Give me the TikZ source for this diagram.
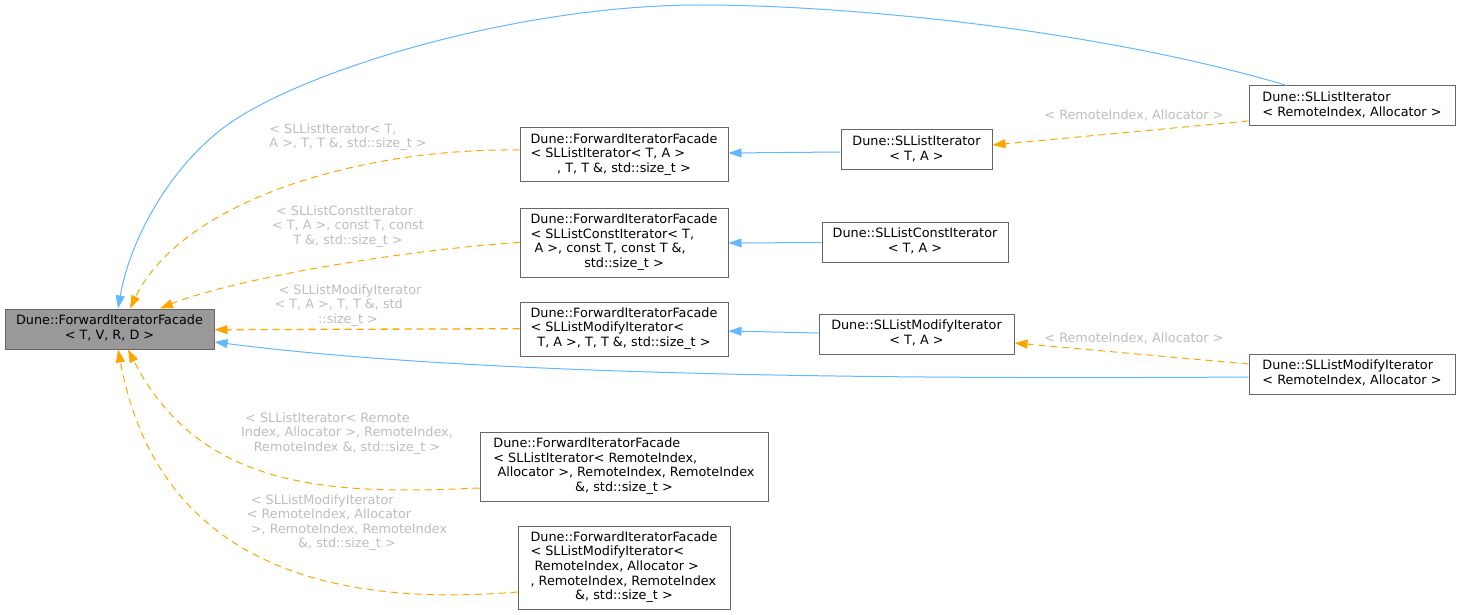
\documentclass[tikz,border=0pt]{standalone}
\usepackage{fontspec}
\setmainfont{DejaVu Sans}
\usetikzlibrary{arrows.meta}
\definecolor{edgeblue}{HTML}{63B8FF}
\definecolor{edgeorange}{HTML}{FFA500}
\definecolor{nodeborder}{HTML}{666666}
\definecolor{basefill}{HTML}{999999}
\definecolor{lblgray}{HTML}{BEBEBE}
\newcommand{\txt}[2]{\begin{tabular}{@{}l@{}}#1\\\multicolumn{1}{@{}c@{}}{#2}\end{tabular}}
\begin{document}
\begin{tikzpicture}[x=1pt,y=-1pt,
  font=\fontsize{12.8}{14.6}\selectfont,
  box/.style={draw=nodeborder, line width=1pt, fill=white, inner sep=0pt, rectangle},
  basebox/.style={box, fill=basefill},
  lbl/.style={text=lblgray, inner sep=0pt},
  blueedge/.style={draw=edgeblue, line width=1pt, -{Triangle[length=13pt,width=9pt]}},
  orangeedge/.style={draw=edgeorange, line width=1pt, dash pattern=on 7pt off 5pt, -{Triangle[length=13pt,width=9pt]}}
]
\useasboundingbox (0,0) rectangle (1460,615);
\fill[white] (0,0) rectangle (1460,615);

% nodes
\node[basebox, minimum width=209pt, minimum height=40pt] (base) at (109.5,329) {\txt{Dune::ForwardIteratorFacade}{< T, V, R, D >}};
\node[box, minimum width=208pt, minimum height=54pt] (f1) at (624,155) {\txt{Dune::ForwardIteratorFacade\\< SLListIterator< T, A >}{, T, T \&, std::size\_t >}};
\node[box, minimum width=208pt, minimum height=69pt] (f2) at (624,242.5) {\txt{Dune::ForwardIteratorFacade\\< SLListConstIterator< T,\\\ A >, const T, const T \&,}{std::size\_t >}};
\node[box, minimum width=208pt, minimum height=54pt] (f3) at (624,329) {\txt{Dune::ForwardIteratorFacade\\< SLListModifyIterator<}{T, A >, T, T \&, std::size\_t >}};
\node[box, minimum width=288pt, minimum height=69pt] (f4) at (624,466.5) {\txt{Dune::ForwardIteratorFacade\\< SLListIterator< RemoteIndex,\\\ Allocator >, RemoteIndex, RemoteIndex}{\&, std::size\_t >}};
\node[box, minimum width=212pt, minimum height=83pt] (f5) at (624,567.5) {\txt{Dune::ForwardIteratorFacade\\< SLListModifyIterator<\\\ RemoteIndex, Allocator >\\, RemoteIndex, RemoteIndex}{\&, std::size\_t >}};
\node[box, minimum width=151pt, minimum height=40pt] (s1) at (916.5,150) {\txt{Dune::SLListIterator}{< T, A >}};
\node[box, minimum width=186pt, minimum height=40pt] (s2) at (915,242) {\txt{Dune::SLListConstIterator}{< T, A >}};
\node[box, minimum width=195pt, minimum height=40pt] (s3) at (916.5,334) {\txt{Dune::SLListModifyIterator}{< T, A >}};
\node[box, minimum width=206pt, minimum height=40pt] (r1) at (1352,106) {\txt{Dune::SLListIterator}{< RemoteIndex, Allocator >}};
\node[box, minimum width=206pt, minimum height=40pt] (r2) at (1352,374) {\txt{Dune::SLListModifyIterator}{< RemoteIndex, Allocator >}};

% blue edges
\draw[blueedge] ([xshift=-65pt]r1.north) .. controls (1100,30) and (850,5) .. (700,5) .. controls (520,5) and (310,68) .. (230,123) .. controls (170,165) and (130,240) .. ([xshift=8.5pt]base.north);
\draw[blueedge] ([yshift=-3pt]r2.west) .. controls (800,380) and (450,372) .. ([yshift=-13pt]base.east);
\draw[blueedge] ([yshift=-2pt]s1.west) -- ([yshift=2pt]f1.east);
\draw[blueedge] ([yshift=-0.5pt]s2.west) -- ([yshift=-0.5pt]f2.east);
\draw[blueedge] ([yshift=1pt]s3.west) -- ([yshift=-2pt]f3.east);

% orange edges
\draw[orangeedge] ([yshift=-15pt]r1.west) -- ([yshift=5pt]s1.east);
\draw[orangeedge] ([yshift=10pt]r2.west) -- ([yshift=-9pt]s3.east);
\draw[orangeedge] ([yshift=5pt]f1.west) .. controls (350,148) and (180,205) .. ([xshift=20.5pt]base.north);
\draw[orangeedge] (f2.west) .. controls (400,250) and (230,280) .. ([xshift=50.5pt]base.north);
\draw[orangeedge, line width=1.3pt] ([yshift=0.3pt]f3.west) -- ([yshift=-0.7pt]base.east);
\draw[orangeedge] ([yshift=-21.5pt]f4.west) .. controls (330,495) and (200,490) .. ([xshift=18.5pt]base.south);
\draw[orangeedge] ([yshift=-24.5pt]f5.west) .. controls (300,610) and (155,545) .. ([xshift=8.5pt]base.south);

% labels
\node[lbl] (l1) at (348,137.5) {\txt{< SLListIterator< T,}{A >, T, T \&, std::size\_t >}};
\node[lbl] (l2) at (348,227) {\txt{\ < SLListConstIterator\\< T, A >, const T, const}{T \&, std::size\_t >}};
\node[lbl] (l3) at (348,306) {\txt{\ < SLListModifyIterator\\< T, A >, T, T \&, std}{::size\_t >}};
\node[lbl] (l4) at (347,434) {\txt{\ < SLListIterator< Remote\\Index, Allocator >, RemoteIndex,}{RemoteIndex \&, std::size\_t >}};
\node[lbl] (l5) at (347,523) {\txt{\ < SLListModifyIterator\\< RemoteIndex, Allocator\\\ >, RemoteIndex, RemoteIndex}{\&, std::size\_t >}};
\node[lbl] (l6) at (1134,115) {< RemoteIndex, Allocator >};
\node[lbl] (l7) at (1134,338) {< RemoteIndex, Allocator >};
\end{tikzpicture}
\end{document}
